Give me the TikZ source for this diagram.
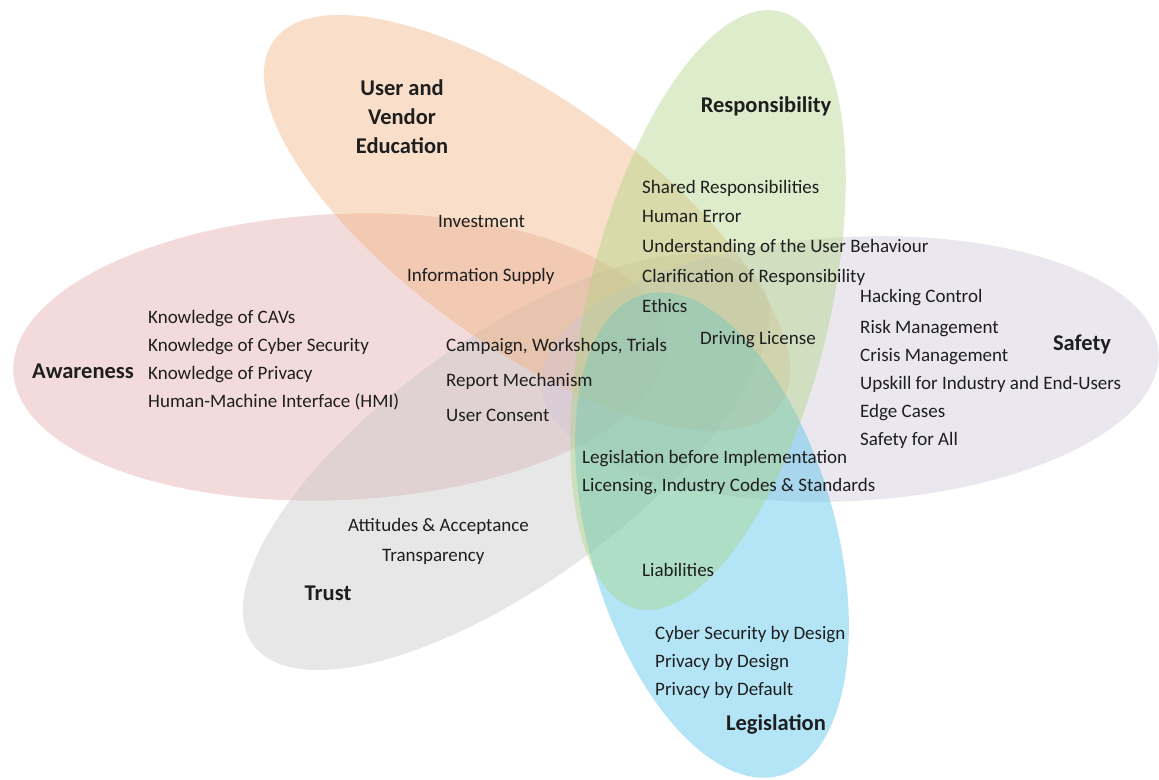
\documentclass[tikz,border=0pt]{standalone}
\usepackage{fontspec}
\setmainfont{Carlito}
\definecolor{ink}{HTML}{1E1E1E}
\definecolor{pinkP}{HTML}{E1A7A7}
\definecolor{grayP}{HTML}{C5C5C5}
\definecolor{orangeP}{HTML}{F2AF78}
\definecolor{lavP}{HTML}{CFC5D9}
\definecolor{blueP}{HTML}{41BEEB}
\definecolor{greenP}{HTML}{AAD47D}
\begin{document}
\begin{tikzpicture}[x=1pt,y=-1pt,
  petal/.style={fill opacity=0.4},
  item/.style={anchor=base west, inner sep=0pt, text=ink,
    font=\fontsize{19}{22}\selectfont},
  title/.style={anchor=base, inner sep=0pt, text=ink,
    font=\fontsize{22.5}{27}\selectfont\bfseries}]
\useasboundingbox (0,0) rectangle (1159,779);
\fill[white] (0,0) rectangle (1159,779);

% six overlapping petals
\fill[petal, pinkP, rotate around={2.6:(340,357)}]
  (340,357) ellipse [x radius=327, y radius=143];
\fill[petal, grayP, rotate around={35.8:(506,462)}]
  (506,462) ellipse [x radius=312, y radius=123];
\fill[petal, orangeP, rotate around={-35.8:(527,223)}]
  (527,223) ellipse [x radius=312, y radius=123];
\fill[petal, lavP, rotate around={3:(850,369)}]
  (850,369) ellipse [x radius=309, y radius=132];
\fill[petal, blueP, rotate around={16:(712,535)}]
  (712,535) ellipse [x radius=123, y radius=250];
\fill[petal, greenP, rotate around={-13.5:(708,310)}]
  (708,310) ellipse [x radius=121, y radius=307];

% petal titles
\node[title] (edu1) at (402,95) {User and};
\node[title] (edu2) at (402,124) {Vendor};
\node[title] (edu3) at (402,153) {Education};
\node[title] (resp) at (766,112) {Responsibility};
\node[title] (safe) at (1082,350) {Safety};
\node[title] (aware) at (83,378) {Awareness};
\node[title] (trust) at (328,600) {Trust};
\node[title] (legis) at (776,730) {Legislation};

% user and vendor education
\node[item] (inv) at (438,227) {Investment};
\node[item] (info) at (407,281) {Information Supply};

% responsibility
\node[item] (shared) at (642,193) {Shared Responsibilities};
\node[item] (human) at (642,222) {Human Error};
\node[item] (under) at (642,252) {Understanding of the User Behaviour};
\node[item] (clar) at (642,282) {Clarification of Responsibility};
\node[item] (ethics) at (642,312) {Ethics};
\node[item] (drive) at (700,344) {Driving License};

% safety
\node[item] (hack) at (860,302) {Hacking Control};
\node[item] (risk) at (860,333) {Risk Management};
\node[item] (crisis) at (860,361) {Crisis Management};
\node[item] (upskill) at (860,389) {Upskill for Industry and End-Users};
\node[item] (edge) at (860,417) {Edge Cases};
\node[item] (forall) at (860,445) {Safety for All};

% awareness
\node[item] (cav) at (148,323) {Knowledge of CAVs};
\node[item] (cyber) at (148,351) {Knowledge of Cyber Security};
\node[item] (priv) at (148,379) {Knowledge of Privacy};
\node[item] (hmi) at (148,407) {Human-Machine Interface (HMI)};

% centre overlaps
\node[item] (camp) at (446,351) {Campaign, Workshops, Trials};
\node[item] (report) at (446,386) {Report Mechanism};
\node[item] (consent) at (446,421) {User Consent};
\node[item] (before) at (582,463) {Legislation before Implementation};
\node[item] (lic) at (582,491) {Licensing, Industry Codes \& Standards};

% trust
\node[item] (att) at (348,531) {Attitudes \& Acceptance};
\node[item] (transp) at (382,561) {Transparency};

% legislation
\node[item] (liab) at (642,576) {Liabilities};
\node[item] (csd) at (655,639) {Cyber Security by Design};
\node[item] (pbd) at (655,667) {Privacy by Design};
\node[item] (pdef) at (655,695) {Privacy by Default};
\end{tikzpicture}
\end{document}
